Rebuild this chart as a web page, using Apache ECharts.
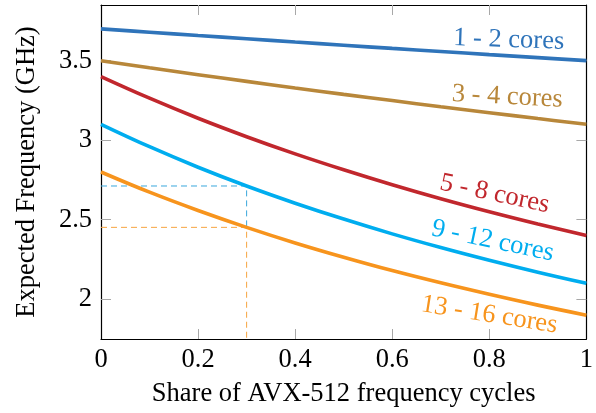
<!DOCTYPE html>
<html>
<head>
<meta charset="utf-8">
<script src="https://cdn.jsdelivr.net/npm/echarts@6/dist/echarts.min.js"></script>
<style>html,body{margin:0;padding:0;background:#fff;}#c{width:596px;height:413px;}</style>
</head>
<body>
<div id="c"></div>
<script>
// ---- data ----
const shares = [0, 0.1, 0.2, 0.3, 0.4, 0.5, 0.6, 0.7, 0.8, 0.9, 1];
const seriesNames = ['1 - 2 cores', '3 - 4 cores', '5 - 8 cores', '9 - 12 cores', '13 - 16 cores'];
const cores1to2   = [3.700, 3.679, 3.658, 3.638, 3.617, 3.597, 3.577, 3.558, 3.538, 3.519, 3.500];
const cores3to4   = [3.500, 3.455, 3.412, 3.370, 3.328, 3.288, 3.249, 3.210, 3.173, 3.136, 3.100];
const cores5to8   = [3.400, 3.264, 3.138, 3.022, 2.914, 2.814, 2.720, 2.632, 2.550, 2.473, 2.400];
const cores9to12  = [3.100, 2.959, 2.830, 2.712, 2.604, 2.504, 2.411, 2.325, 2.245, 2.170, 2.100];
const cores13to16 = [2.800, 2.673, 2.558, 2.452, 2.354, 2.264, 2.180, 2.103, 2.031, 1.963, 1.900];
const xTicks = [0, 0.2, 0.4, 0.6, 0.8, 1];
const yTicks = [2, 2.5, 3, 3.5];
const guideShare = 0.3;
const guideFreq9to12 = 2.712;
const guideFreq13to16 = 2.452;

// ---- style ----
const FONT = '"Liberation Serif", "DejaVu Serif", serif';
const FS = 26.5;
const colors = ['#2f74ba', '#b8873a', '#c1272d', '#00adef', '#f7941d'];
const yMin = 1.75, yMax = 3.85;
const allValues = [cores1to2, cores3to4, cores5to8, cores9to12, cores13to16];

const chart = echarts.init(document.getElementById('c'), null, {renderer: 'canvas'});

const tickStyle = {show: true, inside: true, length: 10, lineStyle: {color: '#a8a8a8', width: 1}};
const axisLineStyle = {show: true, onZero: false, lineStyle: {color: '#000', width: 1.2}};

function xAxisBase(pos, showLabel) {
  return {
    type: 'value', position: pos, min: 0, max: 1, interval: 0.2,
    axisLine: axisLineStyle,
    axisTick: Object.assign({}, tickStyle, {customValues: xTicks.filter(v => v > 0 && v < 1)}),
    axisLabel: {show: showLabel, customValues: xTicks, fontFamily: FONT, fontSize: FS, color: '#000', margin: 8,
      formatter: v => String(Math.round(v * 10) / 10)},
    splitLine: {show: false}
  };
}
function yAxisBase(pos, showLabel) {
  return {
    type: 'value', position: pos, min: yMin, max: yMax,
    axisLine: axisLineStyle,
    axisTick: Object.assign({}, tickStyle, {customValues: yTicks}),
    axisLabel: {show: showLabel, customValues: yTicks, fontFamily: FONT, fontSize: FS, color: '#000', margin: 9,
      formatter: v => String(Math.round(v * 10) / 10)},
    splitLine: {show: false}
  };
}

const xBottom = Object.assign(xAxisBase('bottom', true), {
  name: 'Share of AVX-512 frequency cycles', nameLocation: 'middle', nameGap: 42,
  nameTextStyle: {fontFamily: FONT, fontSize: FS, color: '#000'}
});
const yLeft = Object.assign(yAxisBase('left', true), {
  name: 'Expected Frequency (GHz)', nameLocation: 'middle', nameGap: 60,
  nameTextStyle: {fontFamily: FONT, fontSize: FS, color: '#000'}
});

const series = [];
// guide lines
series.push({
  type: 'line', xAxisIndex: 0, yAxisIndex: 0, silent: true, showSymbol: false, z: 1,
  data: [[0, guideFreq9to12], [guideShare, guideFreq9to12], [guideShare, guideFreq13to16]],
  lineStyle: {color: '#3aa7dc', width: 1, type: [6, 4]}
});
series.push({
  type: 'line', xAxisIndex: 0, yAxisIndex: 0, silent: true, showSymbol: false, z: 1,
  data: [[0, guideFreq13to16], [guideShare, guideFreq13to16], [guideShare, yMin]],
  lineStyle: {color: '#f7a540', width: 1, type: [6, 4]}
});
allValues.forEach((vals, i) => {
  series.push({
    name: seriesNames[i], type: 'line', xAxisIndex: 0, yAxisIndex: 0,
    showSymbol: false, smooth: 0.4, z: 3,
    data: shares.map((s, k) => [s, vals[k]]),
    lineStyle: {color: colors[i], width: 3.6}
  });
});

chart.setOption({
  animation: false,
  backgroundColor: '#fff',
  grid: {left: 101, right: 9, top: 5, bottom: 74, containLabel: false},
  xAxis: [xBottom, xAxisBase('top', false)],
  yAxis: [yLeft, yAxisBase('right', false)],
  series: series
});

// in-plot series labels, anchored in data coordinates
const labelAnchors = [
  {x: 0.84, y: 3.63, rot: 2},
  {x: 0.837, y: 3.272, rot: 3},
  {x: 0.811, y: 2.662, rot: 12},
  {x: 0.807, y: 2.366, rot: 12},
  {x: 0.80, y: 1.901, rot: 9}
];
const graphics = labelAnchors.map((a, i) => {
  const p = chart.convertToPixel({gridIndex: 0}, [a.x, a.y]);
  return {
    type: 'text', x: p[0], y: p[1], rotation: -a.rot * Math.PI / 180, z: 10,
    style: {text: seriesNames[i], fill: colors[i], font: FS + 'px ' + FONT, align: 'center', verticalAlign: 'middle'}
  };
});
chart.setOption({graphic: graphics});
</script>
</body>
</html>
